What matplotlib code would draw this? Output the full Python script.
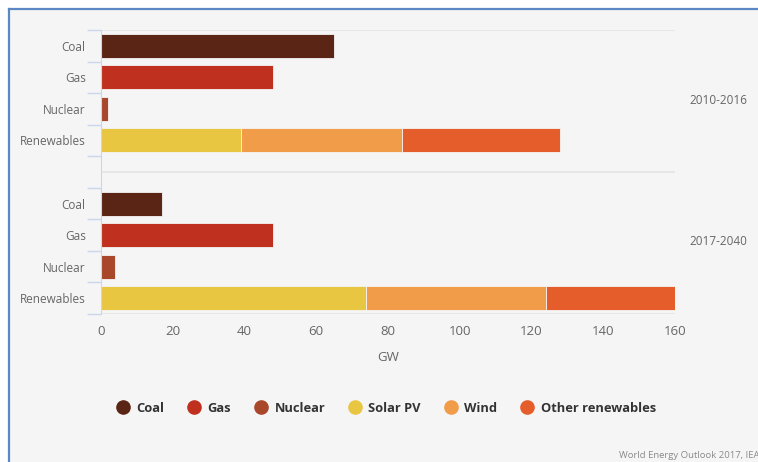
import numpy as np
import matplotlib
matplotlib.use("Agg")
import matplotlib.pyplot as plt
from matplotlib.lines import Line2D

# data (GW per year)
categories = ["Coal", "Gas", "Nuclear", "Renewables"]
periods = ["2010-2016", "2017-2040"]
coal = [65, 17]
gas = [48, 48]
nuclear = [2, 4]
solar = [39, 74]
wind = [45, 50]
other = [44, 36]

COL = {"Coal": "#5a2514", "Gas": "#c0301f", "Nuclear": "#a9472a",
       "Solar PV": "#e9c642", "Wind": "#f09c48", "Other renewables": "#e45d2b"}
FONT = ["Open Sans", "DejaVu Sans"]
plt.rcParams["font.family"] = FONT

W, H = 758, 462
fig = plt.figure(figsize=(W / 100, H / 100), dpi=100)
fig.patch.set_facecolor("white")
# panel background with blue frame on top/left
fig.patches.append(plt.Rectangle((9 / W, 0), 1, 1 - 9 / H, transform=fig.transFigure,
                                 facecolor="#f5f5f5", edgecolor="none", zorder=-10))
fig.add_artist(Line2D([9 / W, 1], [1 - 9 / H, 1 - 9 / H], transform=fig.transFigure,
                      color="#5b87c5", lw=1.6))
fig.add_artist(Line2D([9 / W, 9 / W], [0, 1 - 9 / H], transform=fig.transFigure,
                      color="#5b87c5", lw=1.6))

ax = fig.add_axes([101 / W, 1 - 314 / H, 574 / W, 284 / H])
ax.set_facecolor("none")

bh = 0.76
ypos, ylabels = [], []
for g, per in enumerate(periods):
    base = g * 5
    y = np.arange(4) + base
    ax.barh(y[0], coal[g], height=bh, color=COL["Coal"], edgecolor="#f5f5f5", lw=0.6)
    ax.barh(y[1], gas[g], height=bh, color=COL["Gas"], edgecolor="#f5f5f5", lw=0.6)
    ax.barh(y[2], nuclear[g], height=bh, color=COL["Nuclear"], edgecolor="#f5f5f5", lw=0.6)
    ax.barh(y[3], solar[g], height=bh, color=COL["Solar PV"], edgecolor="#f5f5f5", lw=0.6)
    ax.barh(y[3], wind[g], left=solar[g], height=bh, color=COL["Wind"], edgecolor="#f5f5f5", lw=0.6)
    ax.barh(y[3], other[g], left=solar[g] + wind[g], height=bh, color=COL["Other renewables"],
            edgecolor="#f5f5f5", lw=0.6)
    ypos += list(y)
    ylabels += categories

ax.set_xlim(0, 160)
ax.set_ylim(8.5, -0.5)
ax.set_yticks(ypos)
ax.set_yticklabels(ylabels)
ax.set_yticks([-0.5, 0.5, 1.5, 2.5, 3.5, 4.5, 5.5, 6.5, 7.5, 8.5], minor=True)
ax.tick_params(axis="y", which="major", length=0, pad=11, labelsize=8.5, labelcolor="#666666")
ax.tick_params(axis="y", which="minor", length=10, color="#ccd6eb", width=1)
ax.set_xticks(np.arange(0, 161, 20))
ax.tick_params(axis="x", length=0, pad=8, labelsize=9.5, labelcolor="#666666")
ax.set_xlabel("GW", fontsize=9.5, color="#666666", labelpad=9)

for s in ["top", "right", "bottom"]:
    ax.spines[s].set_visible(False)
ax.spines["left"].set_color("#ccd6eb")
for yy in (-0.5, 4, 8.5):
    ax.axhline(yy, color="#e3e3e3", lw=1.2, zorder=0)

# group labels on the right
ax.text(1.026, 1 - (100 - 30) / 284, periods[0], transform=ax.transAxes,
        ha="left", va="center", fontsize=8.5, color="#666666")
ax.text(1.026, 1 - (242 - 30) / 284, periods[1], transform=ax.transAxes,
        ha="left", va="center", fontsize=8.5, color="#666666")

handles = [Line2D([], [], ls="none", marker="o", ms=9.5, mfc=c, mec=c) for c in COL.values()]
leg = fig.legend(handles, list(COL.keys()), loc="center", ncol=6, frameon=False,
                 bbox_to_anchor=(386 / W, 1 - 408 / H), handletextpad=0.55, columnspacing=1.8,
                 handlelength=1.0, prop={"weight": "bold", "size": 9.3, "family": FONT})
for t in leg.get_texts():
    t.set_color("#333333")

fig.text(1.002, 1 - 455 / H, "World Energy Outlook 2017, IEA", ha="right", va="center",
         fontsize=6.8, color="#8a8a8a")

fig.savefig("out.png", dpi=100)
